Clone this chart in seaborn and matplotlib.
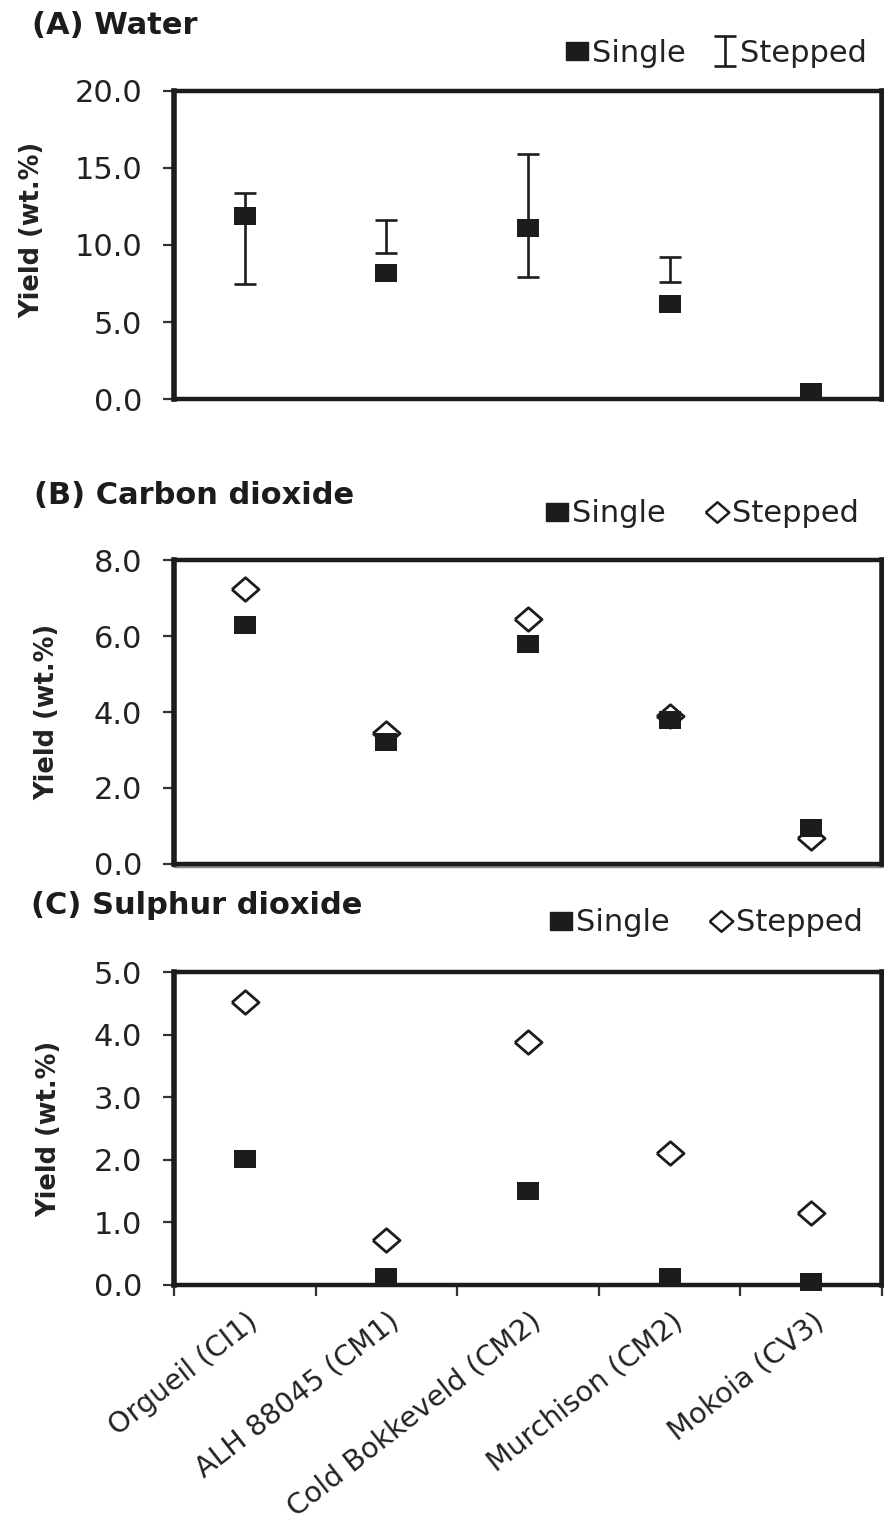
import matplotlib
matplotlib.use("Agg")
import matplotlib.pyplot as plt
import seaborn as sns
import pandas as pd
import numpy as np
from matplotlib.lines import Line2D
from matplotlib.ticker import FormatStrFormatter, MultipleLocator
from matplotlib.transforms import ScaledTranslation

# ---------------- data ----------------
categories = ["Orgueil (CI1)", "ALH 88045 (CM1)", "Cold Bokkeveld (CM2)",
              "Murchison (CM2)", "Mokoia (CV3)"]

water_single = [11.9, 8.2, 11.1, 6.2, 0.5]
water_stepped_low = [7.5, 9.45, 7.9, 7.6, np.nan]
water_stepped_high = [13.35, 11.65, 15.9, 9.25, np.nan]

co2_single = [6.3, 3.2, 5.8, 3.8, 0.95]
co2_stepped = [7.25, 3.45, 6.45, 3.9, 0.68]

so2_single = [2.02, 0.12, 1.5, 0.13, 0.05]
so2_stepped = [4.53, 0.72, 3.89, 2.11, 1.15]

titles = ["(A) Water", "(B) Carbon dioxide", "(C) Sulphur dioxide"]
ylims = [20.0, 8.0, 5.0]
ysteps = [5.0, 2.0, 1.0]

# ---------------- style ----------------
sns.set_style("ticks")
plt.rcParams["font.family"] = ["DejaVu Sans"]

INK = "#1c1c1c"
# slightly wide square and diamond (the reference is horizontally stretched)
SQ_MARK = [(-1.2, -1), (1.2, -1), (1.2, 1), (-1.2, 1), (-1.2, -1)]
DI_MARK = [(-1.15, 0), (0, 1), (1.15, 0), (0, -1), (-1.15, 0)]
SQ_S = 260
DI_S = 380

fig = plt.figure(figsize=(8.84, 15.31), dpi=100)
W, H = 884.0, 1531.0
left, right = 174 / W, 882 / W
rects = [(90.7, 399.3), (560.0, 864.0), (972.3, 1285.0)]
axes = []
for top, bot in rects:
    axes.append(fig.add_axes([left, 1 - bot / H, right - left, (bot - top) / H]))

xpos = np.arange(len(categories))


def style_axis(ax, ymax, step):
    ax.set_xlim(-0.5, len(categories) - 0.5)
    ax.set_ylim(0, ymax)
    ax.yaxis.set_major_locator(MultipleLocator(step))
    ax.yaxis.set_major_formatter(FormatStrFormatter("%.1f"))
    ax.tick_params(axis="y", length=8, width=1.6, pad=15, labelsize=22,
                   color="#333333", labelcolor="#222222")
    for name, s in ax.spines.items():
        s.set_visible(True)
        s.set_color(INK)
        s.set_linewidth(4.0 if name in ("left", "right") else 3.2)
    ax.set_ylabel("Yield (wt.%)", fontsize=18.5, fontweight="bold",
                  color="#222222")
    ax.set_xlabel("")


def scatter(ax, df, col, kind, z):
    if kind == "single":
        sns.scatterplot(data=df, x="x", y=col, marker=SQ_MARK, color=INK,
                        s=SQ_S, edgecolor=INK, linewidth=0, ax=ax, zorder=z,
                        legend=False, clip_on=False)
    else:
        sns.scatterplot(data=df, x="x", y=col, marker=DI_MARK, color="white",
                        s=DI_S, edgecolor=INK, linewidth=2.0, ax=ax, zorder=z,
                        legend=False, clip_on=False)


# ----- Panel A -----
ax = axes[0]
dfA = pd.DataFrame({"x": xpos, "single": water_single,
                    "lo": water_stepped_low, "hi": water_stepped_high})
mid = (dfA["hi"] + dfA["lo"]) / 2
half = (dfA["hi"] - dfA["lo"]) / 2
eb = ax.errorbar(dfA["x"], mid, yerr=half, fmt="none", ecolor=INK,
                 elinewidth=1.9, capsize=8, capthick=1.9, zorder=2)
scatter(ax, dfA, "single", "single", 3)
style_axis(ax, ylims[0], ysteps[0])
ax.set_xticks([])

sq_handle = Line2D([], [], marker=SQ_MARK, ls="none", color=INK, markersize=16)
di_handle = Line2D([], [], marker=DI_MARK, ls="none", markerfacecolor="white",
                   markeredgecolor=INK, markeredgewidth=1.8, markersize=17)

ax.legend([sq_handle, eb], ["Single", "Stepped"], ncol=2, frameon=False,
          fontsize=22, loc="center right", bbox_to_anchor=(867 / W, 1 - 53 / H),
          bbox_transform=fig.transFigure, borderpad=0, borderaxespad=0,
          handlelength=0.75, handletextpad=0.12, columnspacing=0.9,
          labelcolor="#222222")

# ----- Panel B -----
ax = axes[1]
dfB = pd.DataFrame({"x": xpos, "single": co2_single, "stepped": co2_stepped})
scatter(ax, dfB, "stepped", "stepped", 2)
scatter(ax, dfB, "single", "single", 3)
style_axis(ax, ylims[1], ysteps[1])
ax.set_xticks([])
ax.plot([0, 1], [-0.008, -0.008], transform=ax.transAxes, color="#8a8a8a",
        lw=2.5, clip_on=False, zorder=1)

# ----- Panel C -----
ax = axes[2]
dfC = pd.DataFrame({"x": xpos, "single": so2_single, "stepped": so2_stepped})
scatter(ax, dfC, "stepped", "stepped", 2)
scatter(ax, dfC, "single", "single", 3)
style_axis(ax, ylims[2], ysteps[2])
ax.set_xticks(np.arange(-0.5, len(categories), 1.0))
ax.set_xticklabels([""] * (len(categories) + 1))
ax.set_xticks(xpos, minor=True)
ax.set_xticklabels(categories, minor=True, rotation=38, ha="right",
                   va="center", rotation_mode="anchor", fontsize=20.5,
                   color="#222222")
ax.tick_params(axis="x", which="major", length=8, width=1.6, color="#333333")
ax.tick_params(axis="x", which="minor", length=0, pad=24)
for lbl in ax.get_xticklabels(minor=True):
    lbl.set_transform(lbl.get_transform() +
                      ScaledTranslation(10 / 100, 0, fig.dpi_scale_trans))

legend_kw = dict(ncol=2, frameon=False, fontsize=22, loc="center right",
                 bbox_transform=fig.transFigure, borderpad=0, borderaxespad=0,
                 handlelength=0.75, handletextpad=0.12, columnspacing=1.3,
                 labelcolor="#222222")
axes[1].legend([sq_handle, di_handle], ["Single", "Stepped"],
               bbox_to_anchor=(859 / W, 1 - 514 / H), **legend_kw)
axes[2].legend([sq_handle, di_handle], ["Single", "Stepped"],
               bbox_to_anchor=(863 / W, 1 - 923 / H), **legend_kw)

# titles
for t, yc, xs in zip(titles, [26, 495, 906], [32, 34, 31]):
    fig.text(xs / W, 1 - yc / H, t, fontsize=22, fontweight="bold",
             ha="left", va="center", color="#1c1c1c")

# y-label positions
axes[0].yaxis.set_label_coords((45 - 174) / 708, 0.55)
axes[1].yaxis.set_label_coords((60 - 174) / 708, 0.5)
axes[2].yaxis.set_label_coords((62 - 174) / 708, 0.5)

fig.savefig("out.png", dpi=100)
